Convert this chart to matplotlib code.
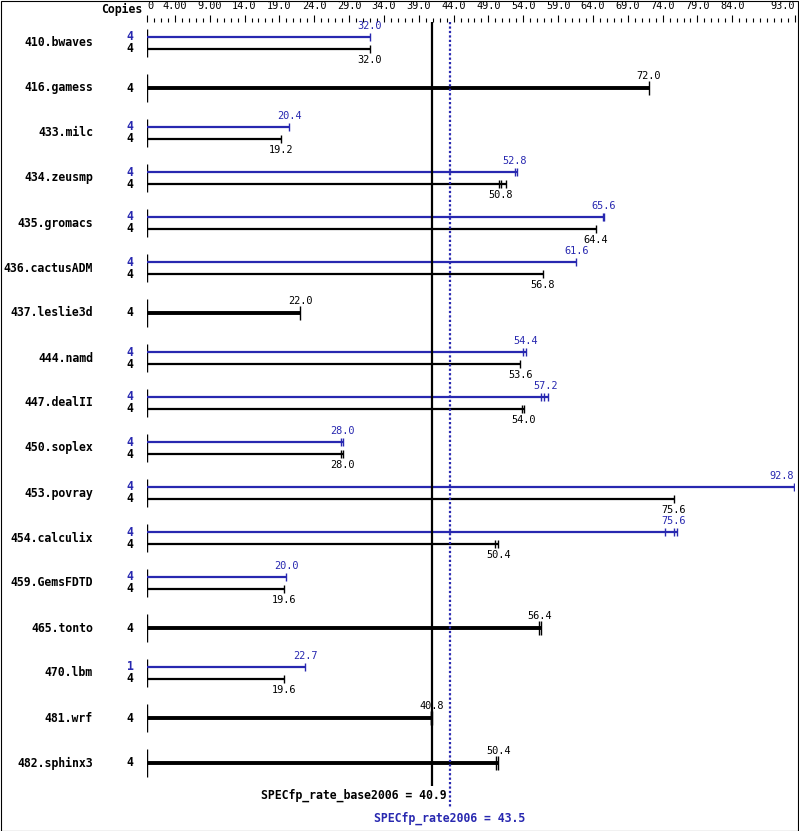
import matplotlib
matplotlib.use("Agg")
import matplotlib.pyplot as plt
from matplotlib.patches import Rectangle

plt.rcParams['font.family'] = ['DejaVu Sans Mono']

benchmarks = ["410.bwaves", "416.gamess", "433.milc", "434.zeusmp", "435.gromacs",
              "436.cactusADM", "437.leslie3d", "444.namd", "447.dealII", "450.soplex",
              "453.povray", "454.calculix", "459.GemsFDTD", "465.tonto", "470.lbm",
              "481.wrf", "482.sphinx3"]
base_copies = [4] * 17
peak_copies = [4, None, 4, 4, 4, 4, None, 4, 4, 4, 4, 4, 4, None, 1, None, None]
base_scores = [32.0, 72.0, 19.2, 50.8, 64.4, 56.8, 22.0, 53.6, 54.0, 28.0,
               75.6, 50.4, 19.6, 56.4, 19.6, 40.8, 50.4]
peak_scores = [32.0, None, 20.4, 52.8, 65.6, 61.6, None, 54.4, 57.2, 28.0,
               92.8, 75.6, 20.0, None, 22.7, None, None]
# individual run results (tick marks at bar ends)
base_runs = [[32.0], [72.0], [19.2], [50.5, 50.8, 51.5], [64.4], [56.8], [22.0],
             [53.6], [53.8, 54.1], [27.9, 28.1], [75.6], [50.0, 50.4], [19.6],
             [56.3, 56.6], [19.6], [40.7, 40.8, 40.9], [50.1, 50.4]]
peak_runs = [[32.0], None, [20.4], [52.8, 53.1], [65.4, 65.6], [61.6], None,
             [54.0, 54.4], [56.5, 57.0, 57.5], [27.9, 28.1], [92.8],
             [74.4, 75.6, 76.0], [20.0], None, [22.7], None, None]
base_overall = 40.9
peak_overall = 43.5
major_ticks = [0, 4, 9, 14, 19, 24, 29, 34, 39, 44, 49, 54, 59, 64, 69, 74, 79, 84, 93]
major_labels = ["0", "4.00", "9.00", "14.0", "19.0", "24.0", "29.0", "34.0", "39.0",
                "44.0", "49.0", "54.0", "59.0", "64.0", "69.0", "74.0", "79.0", "84.0", "93.0"]

blue = '#2828b0'
W, H = 799, 831
row_px = 45.0
px = 1.0 / row_px  # one pixel in row units

fig = plt.figure(figsize=(W / 100, H / 100), dpi=100)
ax = fig.add_axes([147 / W, 0, 648 / W, (H - 22) / H])
ax.set_xlim(0, 93)
ax.set_ylim((H - 43) / row_px, (22 - 43) / row_px)
for s in ax.spines.values():
    s.set_visible(False)
ax.yaxis.set_visible(False)
ax.xaxis.set_ticks_position('top')
ax.set_xticks(major_ticks)
ax.set_xticklabels(major_labels, fontsize=7.4)
ax.set_xticks(range(0, 94), minor=True)
ax.tick_params(axis='x', which='major', length=5, width=0.8, pad=3)
ax.tick_params(axis='x', which='minor', length=3, width=0.8)
lbls = ax.get_xticklabels()
lbls[0].set_horizontalalignment('left')
lbls[-1].set_horizontalalignment('right')

for i, name in enumerate(benchmarks):
    ax.annotate(name, (0, i), xytext=(-54, 0), textcoords='offset pixels',
                ha='right', va='center', fontsize=8.3, fontweight='bold')
    ax.vlines(0, i - 14 * px, i + 14 * px, color='black', lw=1.0)
    if peak_scores[i] is not None:
        yp, yb = i - 6 * px, i + 6 * px
        # peak bar
        ax.hlines(yp, 0, max(peak_runs[i]), color=blue, lw=1.6)
        ax.vlines(peak_runs[i], yp - 4 * px, yp + 4 * px, color=blue, lw=1.0)
        ha = 'right' if peak_scores[i] > 90 else 'center'
        ax.annotate(f"{peak_scores[i]:.1f}", (peak_scores[i], yp), xytext=(0, 11),
                    textcoords='offset pixels', ha=ha, va='center', fontsize=7.4, color=blue)
        ax.annotate(str(peak_copies[i]), (0, yp), xytext=(-17, 0), textcoords='offset pixels',
                    ha='center', va='center', fontsize=8.3, fontweight='bold', color=blue)
        # base bar
        ax.hlines(yb, 0, max(base_runs[i]), color='black', lw=1.6)
        ax.vlines(base_runs[i], yb - 4 * px, yb + 4 * px, color='black', lw=1.0)
        ax.annotate(f"{base_scores[i]:.1f}", (base_scores[i], yb), xytext=(0, -11),
                    textcoords='offset pixels', ha='center', va='center', fontsize=7.4)
        ax.annotate(str(base_copies[i]), (0, yb), xytext=(-17, 0), textcoords='offset pixels',
                    ha='center', va='center', fontsize=8.3, fontweight='bold')
    else:
        ax.hlines(i, 0, max(base_runs[i]), color='black', lw=2.8)
        ax.vlines(base_runs[i], i - 7 * px, i + 7 * px, color='black', lw=1.0)
        ax.annotate(f"{base_scores[i]:.1f}", (base_scores[i], i), xytext=(0, 12),
                    textcoords='offset pixels', ha='center', va='center', fontsize=7.4)
        ax.annotate(str(base_copies[i]), (0, i), xytext=(-17, 0), textcoords='offset pixels',
                    ha='center', va='center', fontsize=8.3, fontweight='bold')

# overall score lines
ax.vlines(base_overall, (22 - 43) * px, (786 - 43) * px, color='black', lw=1.6)
ax.vlines(peak_overall, (22 - 43) * px, (808 - 43) * px, color=blue, lw=1.6,
          linestyles=(0, (1, 1)))
ax.annotate(f"SPECfp_rate_base2006 = {base_overall}", (base_overall, (795 - 43) * px),
            xytext=(15, 0), textcoords='offset pixels', ha='right', va='center',
            fontsize=8.3, fontweight='bold', annotation_clip=False)
ax.annotate(f"SPECfp_rate2006 = {peak_overall}", (peak_overall, (818 - 43) * px),
            xytext=(0, 0), textcoords='offset pixels', ha='center', va='center',
            fontsize=8.3, fontweight='bold', color=blue, annotation_clip=False)

fig.text(142 / W, 1 - 9 / H, "Copies", ha='right', va='center', fontsize=8.3, fontweight='bold')
fig.patches.append(Rectangle((0.5 / W, 0.5 / H), 1 - 1.5 / W, 1 - 1.5 / H, transform=fig.transFigure,
                             fill=False, edgecolor='black', lw=0.8))

fig.savefig("out.png", dpi=100)
